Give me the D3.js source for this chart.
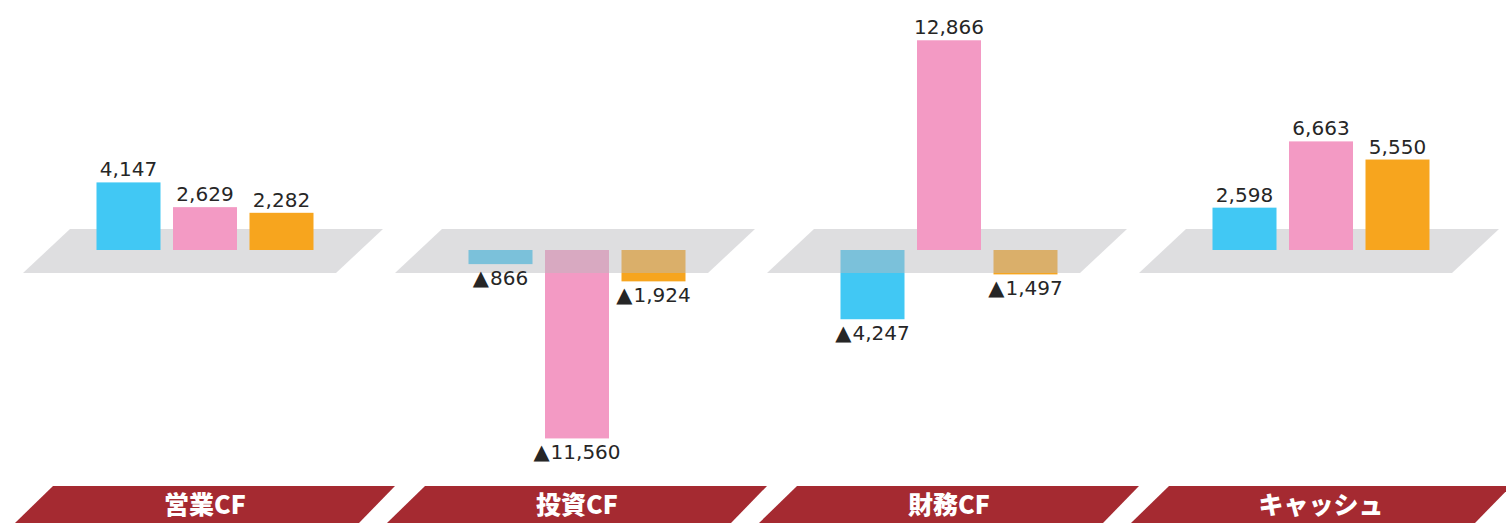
<!DOCTYPE html>
<html><head><meta charset="utf-8">
<script src="https://cdn.jsdelivr.net/npm/d3@7"></script>
<style>
html,body{margin:0;padding:0;background:#fff;}
svg{display:block;}
</style></head>
<body>
<svg id="chart" width="1506" height="523"></svg>
<script>
const categories = ["営業CF", "投資CF", "財務CF", "キャッシュ"];
const seriesNames = ["s1", "s2", "s3"];
const seriesBlue = [4147, -866, -4247, 2598];
const seriesPink = [2629, -11560, 12866, 6663];
const seriesOrange = [2282, -1924, -1497, 5550];
const seriesColors = ["#41C8F4", "#F39AC4", "#F7A51E"];

const seriesValues = [seriesBlue, seriesPink, seriesOrange];
const data = [];
categories.forEach((c, i) => {
  seriesNames.forEach((s, j) => data.push({cat: c, ser: s, val: seriesValues[j][i], color: seriesColors[j]}));
});

const svg = d3.select("#chart");

const x0 = d3.scaleBand().domain(categories).range([19, 19 + 4 * 372]).padding(0);
const x1 = d3.scaleBand().domain(seriesNames).range([-108.5, 108.5]).paddingInner(12.5 / 76.5).paddingOuter(0);
const k = 0.0163;
const y = d3.scaleLinear().domain([-12000, 13000]).range([250 + 12000 * k, 250 - 13000 * k]);
const y0 = y(0);
const cx = c => x0(c) + x0.bandwidth() / 2;
const fmt = d3.format(",");

function barRect(sel) {
  sel.attr("x", d => cx(d.cat) + x1(d.ser))
     .attr("width", x1.bandwidth())
     .attr("y", d => Math.min(y(d.val), y0))
     .attr("height", d => Math.abs(y(d.val) - y0))
     .attr("fill", d => d.color);
}

// negative bars (beneath the translucent platform)
svg.append("g").selectAll("rect").data(data.filter(d => d.val < 0)).join("rect").call(barRect);

// platforms
const pTop = y0 - 21, pBot = y0 + 23;
svg.append("g").selectAll("path").data(categories).join("path")
  .attr("d", c => {
    const m = cx(c);
    return `M${m - 135},${pTop}L${m + 178},${pTop}L${m + 131},${pBot}L${m - 182},${pBot}Z`;
  })
  .attr("fill", "rgb(186,186,190)")
  .attr("fill-opacity", 0.48);

// positive bars
svg.append("g").selectAll("rect").data(data.filter(d => d.val >= 0)).join("rect").call(barRect);

// value labels
const lab = svg.append("g").selectAll("text").data(data).join("text")
  .attr("x", d => cx(d.cat) + x1(d.ser) + x1.bandwidth() / 2)
  .attr("y", d => d.val >= 0 ? y(d.val) - 6 : y(d.val) + 21)
  .attr("text-anchor", "middle")
  .attr("font-family", "'DejaVu Sans', Verdana, sans-serif")
  .attr("font-size", 20)
  .attr("fill", "#262626");
lab.each(function(d) {
  const t = d3.select(this);
  if (d.val < 0) {
    t.append("tspan").attr("font-size", 21).text("▲");
    t.append("tspan").attr("dx", 1).text(fmt(-d.val));
  } else {
    t.text(fmt(d.val));
  }
});

// category banners
const bTop = 486, bBot = 523;
const banners = svg.append("g");
banners.selectAll("path").data(categories).join("path")
  .attr("d", c => {
    const m = cx(c);
    return `M${m - 152},${bTop}L${m + 190},${bTop}L${m + 154},${bBot}L${m - 190},${bBot}Z`;
  })
  .attr("fill", "#A52A31");
banners.selectAll("text").data(categories).join("text")
  .attr("x", c => cx(c))
  .attr("y", 514)
  .attr("text-anchor", "middle")
  .attr("font-family", "'Noto Sans CJK JP', sans-serif")
  .attr("font-weight", 900)
  .attr("font-size", 25)
  .attr("fill", "#fff")
  .text(c => c);
</script>
</body></html>
